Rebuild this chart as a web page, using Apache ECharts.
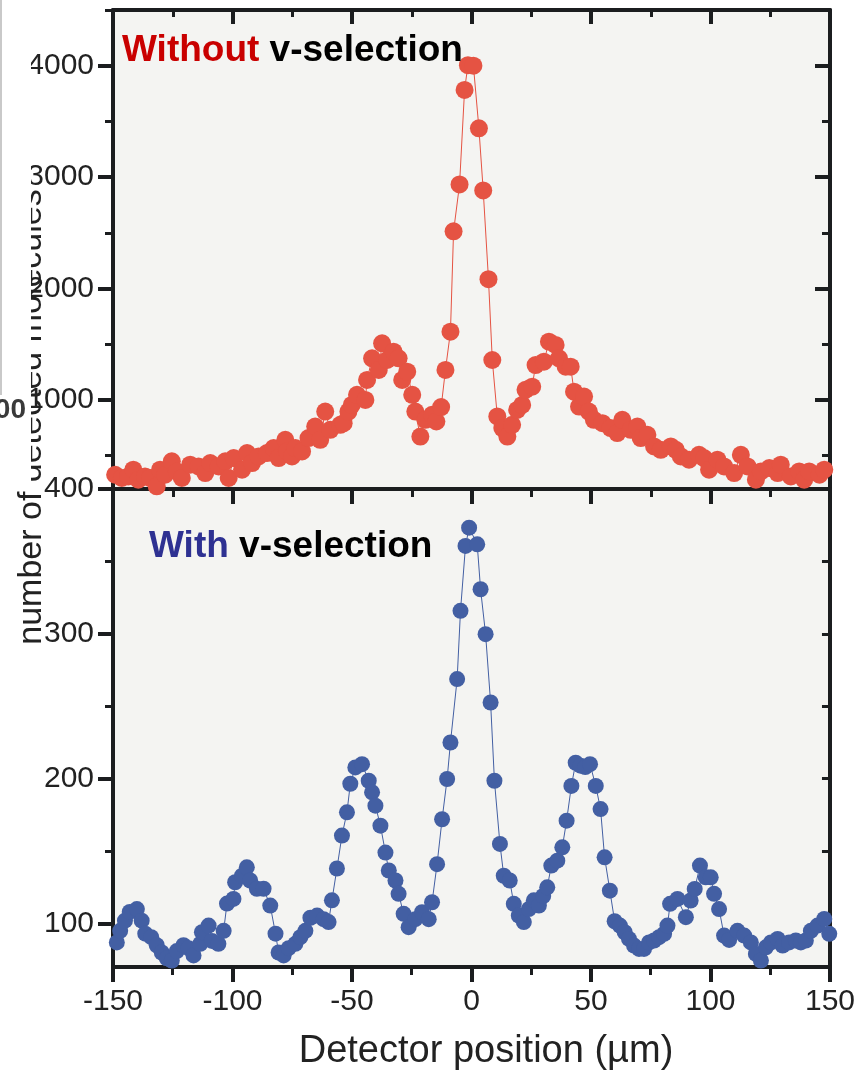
<!DOCTYPE html>
<html>
<head>
<meta charset="utf-8">
<script src="https://cdn.jsdelivr.net/npm/echarts@6/dist/echarts.min.js"></script>
<style>
html, body { margin: 0; padding: 0; background: #fff; }
#chart { width: 858px; height: 1073px; }
</style>
</head>
<body>
<div id="chart"></div>
<script>
// Detector position (µm) and counts — without velocity selection
const posTop = [
  -149.1, -146.3, -143.6, -141.5, -139.4, -136.6, -134.5, -131.7, -130.3, -128.2,
  -125.4, -123.3, -121.2, -117.7, -114.2, -111.4, -109.3, -105.8, -103.0, -101.6,
  -99.5, -96.0, -93.9, -91.8, -89.1, -85.6, -82.8, -80.7, -77.9, -77.2,
  -75.1, -73.7, -70.9, -68.2, -65.4, -63.3, -61.2, -59.1, -54.9, -53.5,
  -51.5, -50.1, -47.9, -44.4, -43.7, -41.6, -38.8, -37.4, -35.3, -32.6,
  -30.5, -29.0, -26.9, -24.8, -23.5, -21.4, -19.3, -16.5, -14.7, -12.7,
  -10.9, -8.8, -7.5, -5.0, -2.9, -1.5, 0.8, 3.1, 4.9, 7.1,
  8.7, 10.8, 12.9, 15.0, 17.0, 19.1, 21.2, 22.6, 25.4, 26.8,
  30.3, 32.4, 35.2, 36.6, 39.4, 41.5, 42.9, 45.0, 47.1, 49.1,
  51.2, 54.8, 58.2, 61.0, 63.1, 66.6, 69.4, 70.8, 73.6, 76.4,
  79.2, 83.4, 85.5, 87.6, 91.0, 95.2, 97.3, 99.4, 102.9, 105.7,
  109.9, 112.7, 115.5, 119.0, 121.1, 124.6, 128.1, 129.4, 133.6, 137.1,
  139.2, 141.3, 145.6, 147.6
];
const countTop = [
  328, 299, 313, 373, 284, 313, 299, 224, 373, 328,
  448, 358, 299, 418, 403, 343, 433, 403, 448, 299,
  478, 373, 523, 433, 492, 523, 567, 478, 642, 537,
  492, 567, 537, 657, 761, 642, 895, 731, 776, 791,
  895, 955, 1045, 1000, 1179, 1373, 1269, 1508, 1358, 1433,
  1373, 1179, 1253, 1045, 895, 671, 821, 866, 806, 935,
  1269, 1612, 2513, 2934, 3782, 4005, 4000, 3438, 2880, 2084,
  1358, 851, 747, 671, 776, 910, 955, 1090, 1119, 1313,
  1343, 1522, 1493, 1373, 1298, 1298, 1074, 940, 1030, 895,
  821, 791, 747, 702, 821, 731, 761, 657, 687, 582,
  552, 582, 552, 492, 463, 507, 478, 373, 463, 403,
  343, 507, 403, 284, 358, 388, 343, 418, 313, 358,
  284, 358, 328, 373
];

// Detector position (µm) and counts — with velocity selection
const posLow = [
  -148.4, -147.0, -145.0, -143.0, -140.0, -138.0, -136.5, -134.0, -131.7, -129.6,
  -127.5, -125.4, -123.3, -120.5, -118.4, -116.3, -113.5, -112.8, -110.0, -108.6,
  -105.9, -103.7, -102.3, -99.6, -98.9, -96.0, -94.0, -92.6, -89.8, -87.0,
  -84.2, -82.0, -80.7, -78.6, -76.5, -73.7, -71.6, -69.5, -67.4, -64.6,
  -61.9, -59.8, -58.4, -56.3, -54.2, -52.1, -50.7, -48.6, -45.8, -43.0,
  -41.6, -40.2, -38.1, -36.0, -34.6, -31.8, -30.5, -28.4, -26.3, -23.5,
  -20.7, -17.9, -16.5, -14.4, -12.3, -10.2, -8.8, -6.0, -4.6, -2.5,
  -1.0, 2.4, 3.8, 5.9, 8.0, 9.6, 11.9, 13.5, 16.0, 17.7,
  19.8, 21.9, 24.0, 26.1, 28.2, 30.0, 31.7, 33.4, 35.9, 38.0,
  39.8, 41.8, 43.6, 45.6, 47.6, 49.6, 52.0, 54.0, 55.7, 57.9,
  59.9, 62.1, 64.1, 65.9, 68.0, 70.1, 72.2, 74.3, 76.4, 78.5,
  80.6, 82.0, 83.1, 86.2, 89.7, 91.7, 93.4, 95.6, 98.0, 100.1,
  101.5, 103.6, 105.7, 107.8, 111.3, 114.1, 116.9, 119.0, 121.1, 123.2,
  125.3, 128.1, 130.2, 132.9, 135.7, 137.8, 139.9, 142.0, 144.8, 147.6,
  149.7
];
const countLow = [
  87, 95, 102, 108, 110, 102, 93, 90.6, 85, 80,
  76, 74.5, 81, 85, 83, 78, 86, 94, 98.6, 88,
  86, 95, 113.8, 117, 128.5, 133, 138.8, 129.7, 124, 124,
  112.4, 93, 80, 78, 83, 86, 90.6, 95, 104, 105.5,
  103, 101, 116, 138, 160.7, 176.8, 196.5, 207.8, 210, 198.6,
  190.6, 181.4, 167.6, 149, 136.6, 129.7, 120.5, 106.7, 97.5, 103,
  107.8, 103, 114.7, 141, 172, 199.8, 225, 268.8, 315.9, 360.7,
  373.3, 361.8, 330.8, 299.8, 252.6, 198.6, 155, 133, 129.7, 113.6,
  105.5, 101, 110, 116, 112.4, 119, 125, 140, 143.4, 152.6,
  171, 195, 211, 209, 208, 210, 195, 179, 145.7, 122.7,
  101.6, 98.6, 94, 89.4, 84.8, 82.5, 82.5, 87, 88.3, 90.6,
  92.9, 98.6, 113.6, 117, 104.4, 115.9, 123.9, 140, 131.9, 131.9,
  120.5, 110, 91.7, 88.7, 95, 91.7, 87, 79, 74.5, 83.6,
  87, 89.4, 84.8, 87, 88.3, 87, 88.3, 95, 98.6, 103.2,
  92.9
];

// Tick positions
const topMajorTicks = [1000, 2000, 3000, 4000];
const topMinorTicks = [500, 1500, 2500, 3500, 4500];
const lowMajorTicks = [100, 200, 300, 400];
const lowMinorTicks = [150, 250, 350];
const lowRightTicks = [100, 150, 200, 250, 300, 350];

const FONT = '"Liberation Sans", Arial, Helvetica, sans-serif';
const INK = '#1b1d1f';
const PANEL = '#f4f4f2';
const RED = '#e55343';
const BLUE = '#435fa3';

function xAxisDef(gridIndex, position, inside, labels) {
  return {
    type: 'value', gridIndex, position,
    min: -150, max: 150, interval: 50,
    axisLine: { show: true, onZero: false, lineStyle: { color: INK, width: 4 } },
    axisTick: { show: true, inside, length: inside ? 14 : 15, lineStyle: { color: INK, width: 4 } },
    minorTick: { show: true, splitNumber: 2, length: inside ? 7 : 8, lineStyle: { color: INK, width: 3 } },
    splitLine: { show: false },
    minorSplitLine: { show: false },
    axisLabel: {
      show: labels, margin: 20, fontSize: 30, fontFamily: FONT, color: '#222',
      showMinLabel: true, showMaxLabel: true,
      formatter: v => String(v)
    }
  };
}

function yAxisDef(gridIndex, position, min, max, ticks, len, inside, lineShow, labels) {
  return {
    type: 'value', gridIndex, position, min, max,
    axisLine: { show: lineShow, onZero: false, lineStyle: { color: INK, width: 4 } },
    axisTick: { show: true, inside, length: len, customValues: ticks,
                lineStyle: { color: INK, width: len > 10 ? 4 : 3 } },
    splitLine: { show: false },
    axisLabel: labels
      ? { show: true, customValues: ticks, margin: 19, fontSize: 30, fontFamily: FONT, color: '#222',
          formatter: v => String(v) }
      : { show: false }
  };
}

const chart = echarts.init(document.getElementById('chart'), null, { renderer: 'canvas' });

chart.setOption({
  animation: false,
  backgroundColor: '#ffffff',
  grid: [
    { left: 113, top: 10, width: 717, height: 479, show: true, backgroundColor: PANEL, borderWidth: 0 },
    { left: 113, top: 489, width: 717, height: 478, show: true, backgroundColor: PANEL, borderWidth: 0 }
  ],
  xAxis: [
    xAxisDef(0, 'bottom', false, false),
    xAxisDef(0, 'top', true, false),
    xAxisDef(1, 'bottom', false, true)
  ],
  yAxis: [
    yAxisDef(0, 'left', 200, 4500, topMajorTicks, 15, false, true, true),
    yAxisDef(0, 'left', 200, 4500, topMinorTicks, 8, false, false, false),
    yAxisDef(0, 'right', 200, 4500, topMajorTicks, 15, true, true, false),
    yAxisDef(0, 'right', 200, 4500, topMinorTicks.slice(0, 4), 8, true, false, false),
    yAxisDef(1, 'left', 70, 400, lowMajorTicks, 15, false, true, true),
    yAxisDef(1, 'left', 70, 400, lowMinorTicks, 8, false, false, false),
    yAxisDef(1, 'right', 70, 400, lowRightTicks, 8, true, true, false)
  ],
  series: [
    {
      name: 'Without v-selection', type: 'line',
      xAxisIndex: 0, yAxisIndex: 0,
      data: posTop.map((x, i) => [x, countTop[i]]),
      symbol: 'circle', symbolSize: 18, clip: false,
      itemStyle: { color: RED },
      lineStyle: { color: RED, width: 1 },
      z: 3
    },
    {
      name: 'With v-selection', type: 'line',
      xAxisIndex: 2, yAxisIndex: 4,
      data: posLow.map((x, i) => [x, countLow[i]]),
      symbol: 'circle', symbolSize: 16, clip: false,
      itemStyle: { color: BLUE },
      lineStyle: { color: BLUE, width: 1 },
      z: 3
    }
  ],
  graphic: [
    {
      type: 'text', x: 122, y: 51, z: 20,
      style: {
        text: '{r|Without} {k|v-selection}',
        font: 'bold 37px ' + FONT,
        verticalAlign: 'middle',
        rich: {
          r: { fill: '#c90000', font: 'bold 37px ' + FONT },
          k: { fill: '#000000', font: 'bold 37px ' + FONT }
        }
      }
    },
    {
      type: 'text', x: 149, y: 547, z: 20,
      style: {
        text: '{b|With} {k|v-selection}',
        font: 'bold 37px ' + FONT,
        verticalAlign: 'middle',
        rich: {
          b: { fill: '#2e3192', font: 'bold 37px ' + FONT },
          k: { fill: '#000000', font: 'bold 37px ' + FONT }
        }
      }
    },
    {
      type: 'text', x: 32, y: 417, rotation: Math.PI / 2, z: 50,
      style: {
        text: 'number of detected molecules',
        font: '34px ' + FONT, fill: '#222',
        align: 'center', verticalAlign: 'middle'
      }
    },
    {
      type: 'rect', z: 100,
      shape: { x: 0, y: 0, width: 31, height: 482 },
      style: { fill: '#ffffff' }
    },
    {
      type: 'line', z: 101,
      shape: { x1: 1, y1: 0, x2: 1, y2: 395 },
      style: { stroke: '#c9c9c9', lineWidth: 2 }
    },
    {
      type: 'text', x: 26, y: 410, z: 101,
      style: {
        text: '00', font: 'bold 28px ' + FONT, fill: '#3a3a3a',
        align: 'right', verticalAlign: 'middle',
        shadowBlur: 3, shadowColor: 'rgba(0,0,0,0.6)'
      }
    },
    {
      type: 'text', x: 486, y: 1052, z: 20,
      style: {
        text: 'Detector position (µm)',
        font: '38px ' + FONT, fill: '#222',
        align: 'center', verticalAlign: 'middle'
      }
    }
  ]
});
</script>
</body>
</html>
